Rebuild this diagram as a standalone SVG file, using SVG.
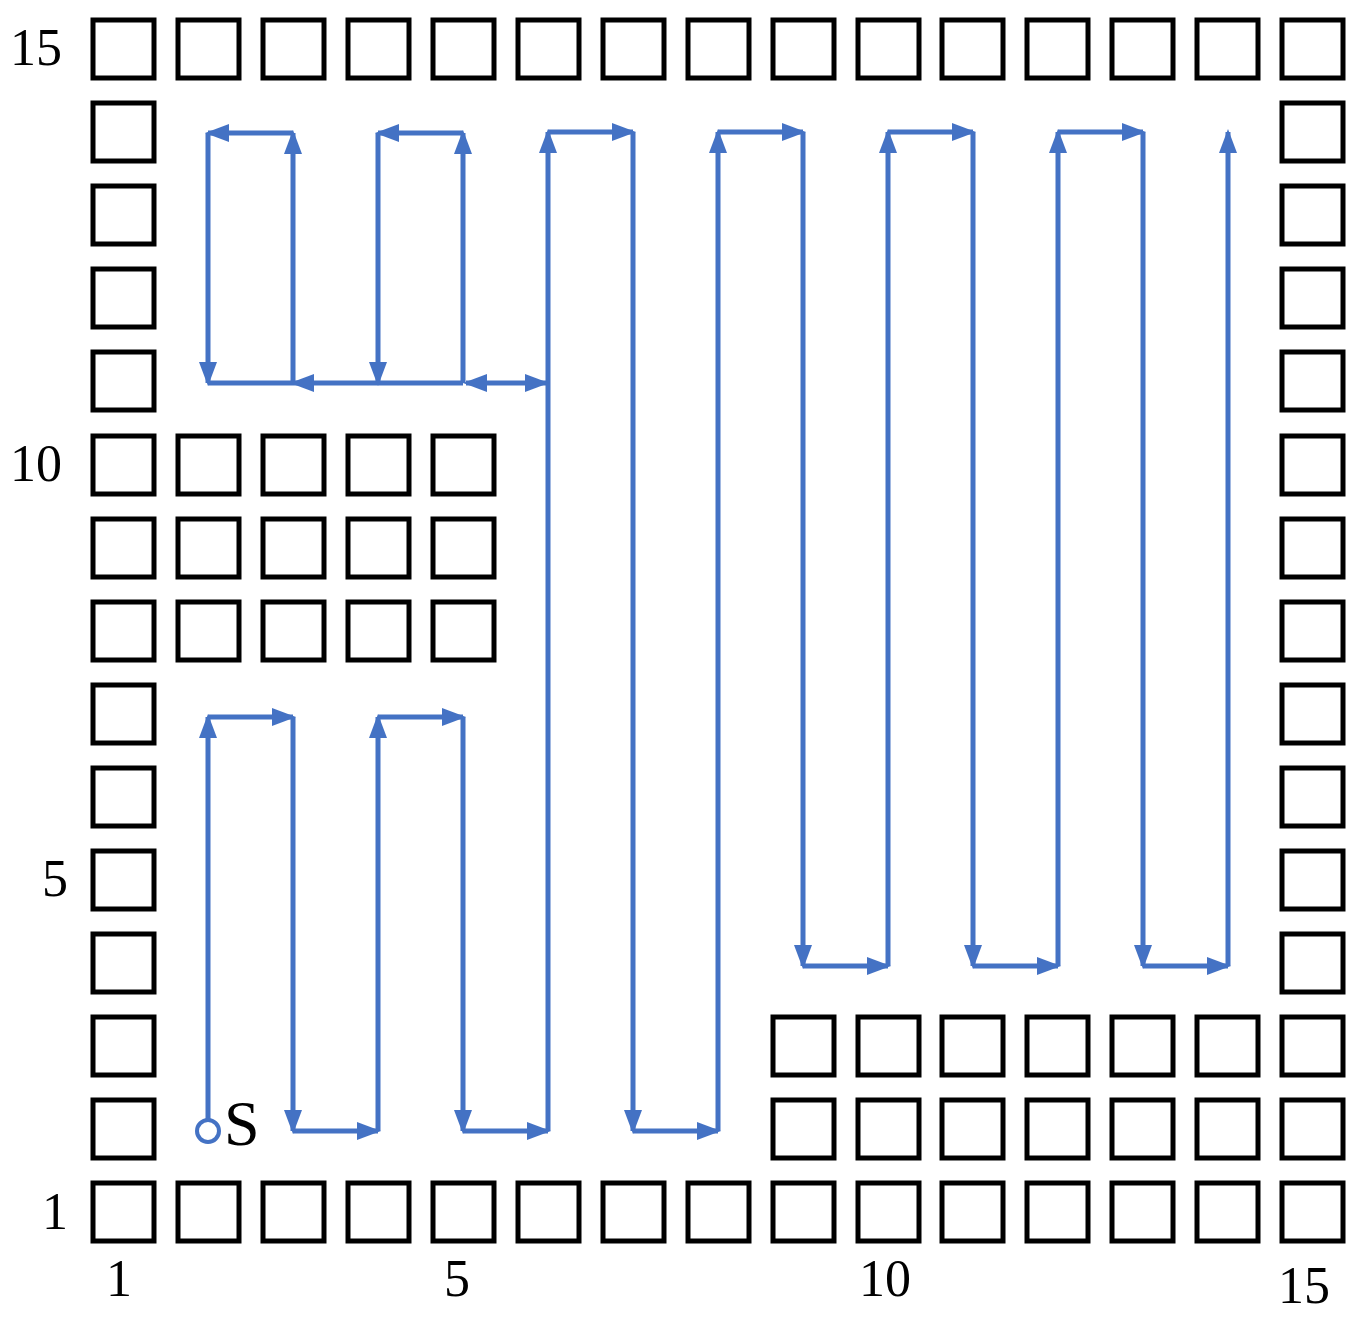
<svg xmlns="http://www.w3.org/2000/svg" width="1361" height="1324" viewBox="0 0 1361 1324">
<style>
.sq{fill:#fff;stroke:#000;stroke-width:5}
.p{fill:none;stroke:#4472C4;stroke-width:5}
.t{font-family:"Liberation Serif",serif;font-size:52px;fill:#000}
</style>
<defs>
<rect id="sq" class="sq" width="61" height="58"/>
<marker id="b" viewBox="0 0 24 18" refX="21" refY="9" markerWidth="24" markerHeight="18" markerUnits="userSpaceOnUse" orient="auto"><path d="M0,0 L24,9 L0,18 z" fill="#4472C4"/></marker>
<marker id="bs" viewBox="0 0 24 18" refX="3" refY="9" markerWidth="24" markerHeight="18" markerUnits="userSpaceOnUse" orient="auto"><path d="M24,0 L0,9 L24,18 z" fill="#4472C4"/></marker>
</defs>
<g id="grid">
<use href="#sq" x="93" y="20"/><use href="#sq" x="178" y="20"/><use href="#sq" x="263" y="20"/><use href="#sq" x="348" y="20"/><use href="#sq" x="433" y="20"/><use href="#sq" x="518" y="20"/><use href="#sq" x="603" y="20"/><use href="#sq" x="688" y="20"/><use href="#sq" x="773" y="20"/><use href="#sq" x="858" y="20"/><use href="#sq" x="942" y="20"/><use href="#sq" x="1027" y="20"/><use href="#sq" x="1112" y="20"/><use href="#sq" x="1197" y="20"/><use href="#sq" x="1282" y="20"/>
<use href="#sq" x="93" y="1183"/><use href="#sq" x="178" y="1183"/><use href="#sq" x="263" y="1183"/><use href="#sq" x="348" y="1183"/><use href="#sq" x="433" y="1183"/><use href="#sq" x="518" y="1183"/><use href="#sq" x="603" y="1183"/><use href="#sq" x="688" y="1183"/><use href="#sq" x="773" y="1183"/><use href="#sq" x="858" y="1183"/><use href="#sq" x="942" y="1183"/><use href="#sq" x="1027" y="1183"/><use href="#sq" x="1112" y="1183"/><use href="#sq" x="1197" y="1183"/><use href="#sq" x="1282" y="1183"/>
<use href="#sq" x="93" y="103"/><use href="#sq" x="93" y="186"/><use href="#sq" x="93" y="269"/><use href="#sq" x="93" y="352"/><use href="#sq" x="93" y="436"/><use href="#sq" x="93" y="519"/><use href="#sq" x="93" y="602"/><use href="#sq" x="93" y="685"/><use href="#sq" x="93" y="768"/><use href="#sq" x="93" y="851"/><use href="#sq" x="93" y="934"/><use href="#sq" x="93" y="1017"/><use href="#sq" x="93" y="1100"/>
<use href="#sq" x="1282" y="103"/><use href="#sq" x="1282" y="186"/><use href="#sq" x="1282" y="269"/><use href="#sq" x="1282" y="352"/><use href="#sq" x="1282" y="436"/><use href="#sq" x="1282" y="519"/><use href="#sq" x="1282" y="602"/><use href="#sq" x="1282" y="685"/><use href="#sq" x="1282" y="768"/><use href="#sq" x="1282" y="851"/><use href="#sq" x="1282" y="934"/><use href="#sq" x="1282" y="1017"/><use href="#sq" x="1282" y="1100"/>
<use href="#sq" x="178" y="436"/><use href="#sq" x="263" y="436"/><use href="#sq" x="348" y="436"/><use href="#sq" x="433" y="436"/>
<use href="#sq" x="178" y="519"/><use href="#sq" x="263" y="519"/><use href="#sq" x="348" y="519"/><use href="#sq" x="433" y="519"/>
<use href="#sq" x="178" y="602"/><use href="#sq" x="263" y="602"/><use href="#sq" x="348" y="602"/><use href="#sq" x="433" y="602"/>
<use href="#sq" x="773" y="1017"/><use href="#sq" x="858" y="1017"/><use href="#sq" x="942" y="1017"/><use href="#sq" x="1027" y="1017"/><use href="#sq" x="1112" y="1017"/><use href="#sq" x="1197" y="1017"/>
<use href="#sq" x="773" y="1100"/><use href="#sq" x="858" y="1100"/><use href="#sq" x="942" y="1100"/><use href="#sq" x="1027" y="1100"/><use href="#sq" x="1112" y="1100"/><use href="#sq" x="1197" y="1100"/>
</g>
<g id="labels" class="t">
<text x="10" y="65">15</text><text x="10" y="481">10</text><text x="42" y="896">5</text><text x="42" y="1229">1</text>
<text x="106" y="1296">1</text><text x="444" y="1296">5</text><text x="859" y="1296">10</text><text x="1278" y="1303">15</text>
<text x="224" y="1145" style="font-size:64px">S</text>
</g>
<g id="connectors" class="p">
<circle cx="208" cy="1131" r="11" fill="#fff" stroke="#4472C4" stroke-width="4"/>
<path d="M208,1120 V717" marker-end="url(#b)"/>
<path d="M208,717 H293" marker-end="url(#b)"/>
<path d="M293,717 V1131" marker-end="url(#b)"/>
<path d="M293,1131 H378" marker-end="url(#b)"/>
<path d="M378,1131 V717" marker-end="url(#b)"/>
<path d="M378,717 H463" marker-end="url(#b)"/>
<path d="M463,717 V1131" marker-end="url(#b)"/>
<path d="M463,1131 H548" marker-end="url(#b)"/>
<path d="M548,1131 V132" marker-end="url(#b)"/>
<path d="M548,132 H633" marker-end="url(#b)"/>
<path d="M633,132 V1131" marker-end="url(#b)"/>
<path d="M633,1131 H718" marker-end="url(#b)"/>
<path d="M718,1131 V132" marker-end="url(#b)"/>
<path d="M718,132 H803" marker-end="url(#b)"/>
<path d="M803,132 V966" marker-end="url(#b)"/>
<path d="M803,966 H888" marker-end="url(#b)"/>
<path d="M888,966 V132" marker-end="url(#b)"/>
<path d="M888,132 H973" marker-end="url(#b)"/>
<path d="M973,132 V966" marker-end="url(#b)"/>
<path d="M973,966 H1058" marker-end="url(#b)"/>
<path d="M1058,966 V132" marker-end="url(#b)"/>
<path d="M1058,132 H1143" marker-end="url(#b)"/>
<path d="M1143,132 V966" marker-end="url(#b)"/>
<path d="M1143,966 H1228" marker-end="url(#b)"/>
<path d="M1228,966 V132" marker-end="url(#b)"/>
<path d="M466,383 H546" marker-start="url(#bs)" marker-end="url(#b)"/>
<path d="M463,383 V133" marker-end="url(#b)"/>
<path d="M463,133 H378" marker-end="url(#b)"/>
<path d="M378,133 V383" marker-end="url(#b)"/>
<path d="M463,383 H293" marker-end="url(#b)"/>
<path d="M293,383 V133" marker-end="url(#b)"/>
<path d="M293,133 H208" marker-end="url(#b)"/>
<path d="M208,133 V383" marker-end="url(#b)"/>
<path d="M208,383 H293"/>
</g>
</svg>
